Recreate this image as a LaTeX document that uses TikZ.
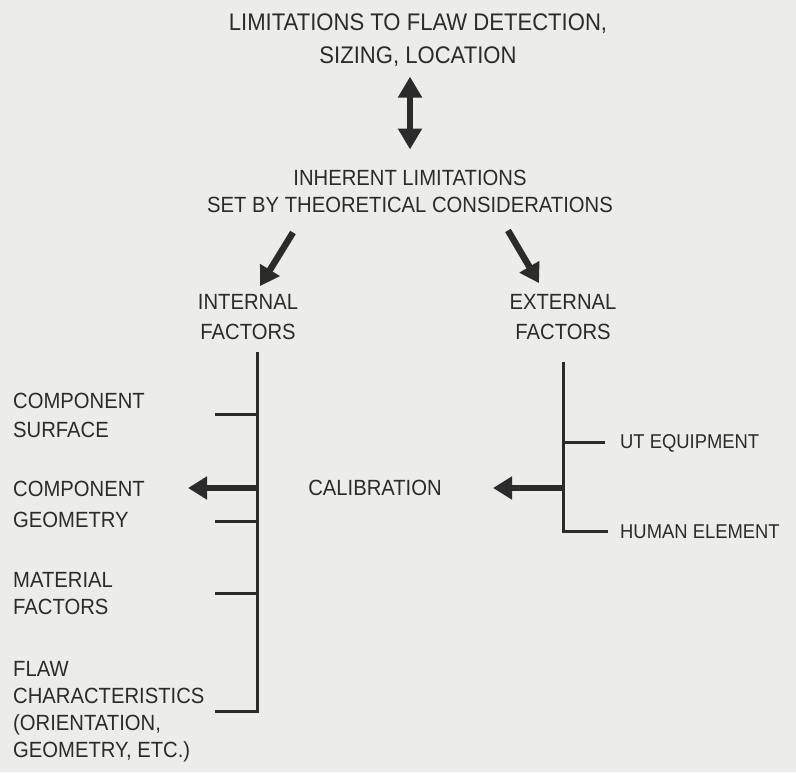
\documentclass[tikz,border=0pt]{standalone}
\usepackage{fontspec}
\setmainfont[FakeStretch=0.92]{Liberation Sans}
\usetikzlibrary{arrows.meta}
\definecolor{PaperGray}{rgb}{0.925,0.925,0.918}
\definecolor{InkGray}{rgb}{0.17,0.17,0.17}

\begin{document}
\begin{tikzpicture}[x=1pt,y=1pt,InkGray,
  txt/.style={inner sep=0pt,align=center,font=\fontsize{22}{28}\selectfont},
  lbl/.style={txt,align=left,anchor=west,font=\fontsize{22}{29}\selectfont},
  bus/.style={line width=3pt},
  fat/.style={line width=6.5pt,-{Triangle[length=19pt,width=22pt]}},
  dbl/.style={line width=6.5pt,{Triangle[length=21pt,width=23pt]}-{Triangle[length=21pt,width=23pt]}}]
\fill[PaperGray] (0,0) rectangle (796,772);
\useasboundingbox (0,0) rectangle (796,772);

\node[txt,font=\fontsize{24}{33}\selectfont] (lim) at (418,732) {LIMITATIONS TO FLAW DETECTION,\\SIZING, LOCATION};
\node[txt,font=\fontsize{22}{27}\selectfont] (inh) at (410,581) {INHERENT LIMITATIONS\\SET BY THEORETICAL CONSIDERATIONS};
\node[txt,font=\fontsize{22}{30}\selectfont] (int) at (248,455) {INTERNAL\\FACTORS};
\node[txt,font=\fontsize{22}{30}\selectfont] (ext) at (563,455) {EXTERNAL\\FACTORS};

\draw[dbl,shorten <=10pt,shorten >=20pt] (lim.south -| inh.north) -- (inh.north);
\draw[fat] ([xshift=-117pt,yshift=-20pt]inh.south) -- ([xshift=12pt,yshift=8pt]int.north);
\draw[fat] ([xshift=98pt,yshift=-18pt]inh.south) -- ([xshift=-24pt,yshift=11pt]ext.north);

% internal factors
\coordinate (lbtop) at (257,420);
\node[lbl] (surf) at (13,357) {COMPONENT\\SURFACE};
\node[lbl,font=\fontsize{22}{31}\selectfont] (geom) at (13,268) {COMPONENT\\GEOMETRY};
\node[lbl,font=\fontsize{22}{27}\selectfont] (matl) at (13,178) {MATERIAL\\FACTORS};
\node[lbl,font=\fontsize{22}{27}\selectfont] (flaw) at (13,60) {FLAW\\CHARACTERISTICS\\(ORIENTATION,\\GEOMETRY, ETC.)};
\draw[bus] (lbtop) -- (flaw -| lbtop) -- ++(-42,0);
\draw[bus] (surf -| lbtop) -- ++(-42,0);
\draw[bus] (lbtop |- geom.south) ++(0,6) -- ++(-42,0);
\draw[bus] (matl -| lbtop) -- ++(-42,0);

% external factors
\coordinate (rbtop) at (563,410);
\node[lbl,font=\fontsize{20}{24}\selectfont] (ut) at (620,329) {UT EQUIPMENT};
\node[lbl,font=\fontsize{20}{24}\selectfont] (hum) at (620,240) {HUMAN ELEMENT};
\draw[bus] (rbtop) |- ([xshift=-12pt]hum.west);
\draw[bus] (ut.west -| rbtop) -- ([xshift=-15pt]ut.west);

\node[txt] (cal) at (375,284) {CALIBRATION};
\draw[fat] (cal -| rbtop) -- ++(-70,0);
\draw[fat] (cal -| lbtop) -- ++(-69,0);

\end{tikzpicture}
\end{document}
